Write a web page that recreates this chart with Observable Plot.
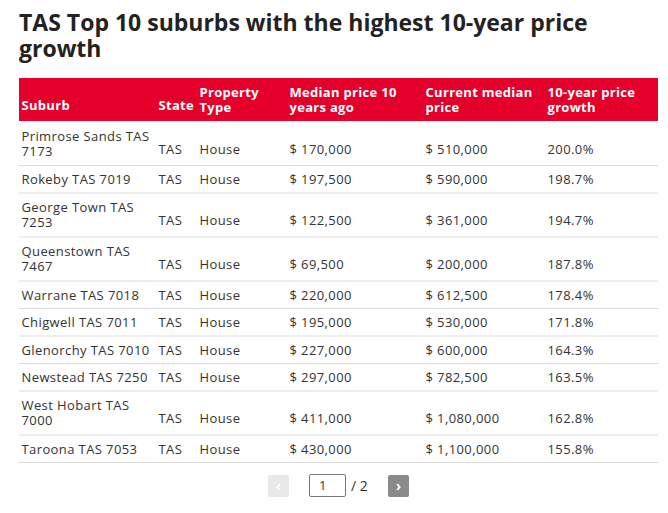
<!DOCTYPE html>
<html><head><meta charset="utf-8">
<script src="https://cdn.jsdelivr.net/npm/d3@7"></script>
<script src="https://cdn.jsdelivr.net/npm/@observablehq/plot@0.6"></script>
<style>
body{margin:0;background:#fff;font-family:"Open Sans",sans-serif;color:#333;}
#title{position:absolute;left:19px;top:9px;margin:0;font-weight:700;font-size:23px;line-height:26px;color:#222;}
#chart{position:absolute;left:0;top:78px;}
#chart text.body{letter-spacing:0.4px;}
#chart text.head{letter-spacing:0.3px;}
.btn{position:absolute;top:475px;width:21px;height:22px;border-radius:2px;color:#fff;font-size:14px;line-height:21px;text-align:center;font-weight:700;}
#prev{left:268px;background:#e9e9e9;}
#next{left:388px;background:#8a8a8a;}
#page{position:absolute;left:309px;top:474px;width:35px;height:21px;border:1px solid #777;border-radius:2px;font-size:13px;line-height:21px;}
#page span{position:absolute;left:9px;}
#total{position:absolute;left:351px;top:476px;font-size:14px;line-height:20px;color:#333;}
</style></head><body>
<h1 id="title">TAS Top 10 suburbs with the highest 10-year price<br>growth</h1>
<div id="chart"></div>
<div id="prev" class="btn">‹</div>
<div id="page"><span>1</span></div>
<div id="total">/ 2</div>
<div id="next" class="btn">›</div>
<script>
// ---- data ----
const columns = ["Suburb", "State", "Property Type", "Median price 10 years ago", "Current median price", "10-year price growth"];
const suburbs = ["Primrose Sands TAS 7173", "Rokeby TAS 7019", "George Town TAS 7253", "Queenstown TAS 7467", "Warrane TAS 7018", "Chigwell TAS 7011", "Glenorchy TAS 7010", "Newstead TAS 7250", "West Hobart TAS 7000", "Taroona TAS 7053"];
const states = ["TAS", "TAS", "TAS", "TAS", "TAS", "TAS", "TAS", "TAS", "TAS", "TAS"];
const propertyTypes = ["House", "House", "House", "House", "House", "House", "House", "House", "House", "House"];
const medianPrice10YearsAgo = [170000, 197500, 122500, 69500, 220000, 195000, 227000, 297000, 411000, 430000];
const currentMedianPrice = [510000, 590000, 361000, 200000, 612500, 530000, 600000, 782500, 1080000, 1100000];
const growthPct = [200.0, 198.7, 194.7, 187.8, 178.4, 171.8, 164.3, 163.5, 162.8, 155.8];

// ---- layout ----
const tableWidth = 639;
const colOffsets = [2, 139, 180, 270, 406, 528];
const colWidths = colOffsets.map((o, i) => (i < colOffsets.length - 1 ? colOffsets[i + 1] : tableWidth) - o);
const charW = 7.2;

function wrap(text, maxChars) {
  const words = text.split(" ");
  const lines = [];
  let cur = "";
  for (const w of words) {
    const t = cur ? cur + " " + w : w;
    if (t.length > maxChars && cur) { lines.push(cur); cur = w; } else cur = t;
  }
  if (cur) lines.push(cur);
  return lines;
}
const money = v => "$ " + d3.format(",")(v);
const fmtRow = i => [suburbs[i], states[i], propertyTypes[i], money(medianPrice10YearsAgo[i]), money(currentMedianPrice[i]), growthPct[i].toFixed(1) + "%"];

function rowHeight(lines, isHeader) { return isHeader ? 43 : 27.5 + (lines - 1) * 16.5; }

const tableRows = [{header: true, cells: columns}].concat(suburbs.map((_, i) => ({header: false, cells: fmtRow(i)})));
let rowTop = 0;
const cells = [];
const rowBottoms = [];
let headerBottom = 0;
tableRows.forEach(r => {
  const wrapped = r.cells.map((t, c) => wrap(t, Math.floor((colWidths[c] - 4) / charW)));
  const n = d3.max(wrapped, w => w.length);
  const h = rowHeight(n, r.header);
  const mid = rowTop + h / 2;
  wrapped.forEach((w, c) => {
    const y = w.length === n ? mid : mid + (n - w.length) * 5.7;
    cells.push({x: colOffsets[c], y, text: w.join("\n"), header: r.header});
  });
  rowTop += h;
  if (r.header) headerBottom = rowTop; else rowBottoms.push(rowTop);
});
const totalH = rowTop;

const chart = Plot.plot({
  width: 668,
  height: Math.ceil(totalH) + 2,
  margin: 0,
  x: {domain: [0, tableWidth], range: [19, 19 + tableWidth], axis: null},
  y: {domain: [0, totalH], range: [0, totalH], axis: null},
  style: {fontFamily: "'Open Sans', sans-serif", background: "#fff", overflow: "visible"},
  marks: [
    Plot.rectY([{x1: 0, x2: tableWidth, y1: 0, y2: headerBottom}], {x1: "x1", x2: "x2", y1: "y1", y2: "y2", fill: "#e4002b"}),
    Plot.ruleY(rowBottoms, {x1: 0, x2: tableWidth, stroke: "#dcdcdc", strokeWidth: 1}),
    Plot.text(cells.filter(d => d.header), {x: "x", y: "y", text: "text", textAnchor: "start", fill: "#fff", fontWeight: "bold", fontSize: 13, lineHeight: 1.15, className: "head"}),
    Plot.text(cells.filter(d => !d.header), {x: "x", y: "y", text: "text", textAnchor: "start", fill: "#333", fontSize: 13, lineHeight: 1.15, className: "body"})
  ]
});
chart.querySelectorAll("g[aria-label=text]").forEach((g, i) => {
  g.querySelectorAll("text").forEach(t => t.setAttribute("class", i === 0 ? "head" : "body"));
});
document.getElementById("chart").appendChild(chart);
</script>
</body></html>
